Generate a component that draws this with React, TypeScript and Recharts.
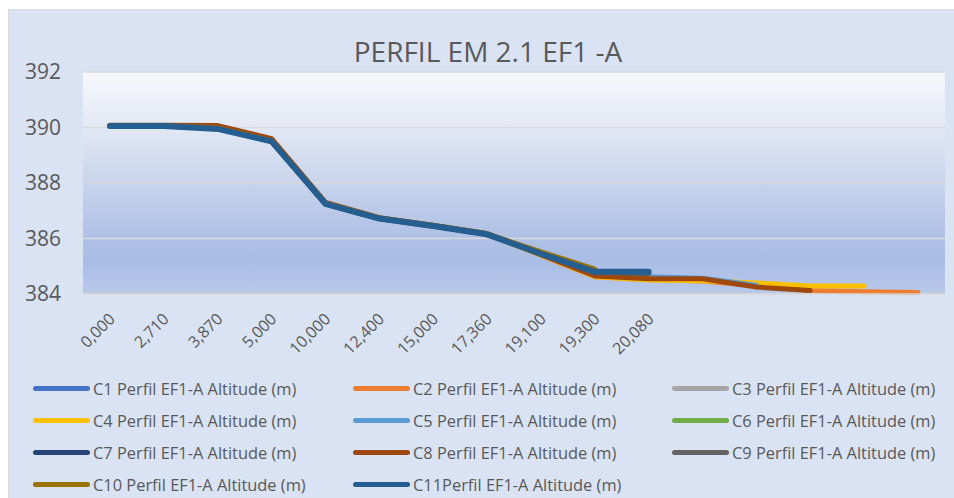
import { CartesianGrid, Line, LineChart, XAxis, YAxis } from 'recharts'

const categories = [
  '0,000', '2,710', '3,870', '5,000', '10,000', '12,400', '15,000', '17,360',
  '19,100', '19,300', '20,080', '', '', '', '', '',
]

const yTicks = [384, 386, 388, 390, 392]

const seriesNames = [
  'C1 Perfil EF1-A Altitude (m)',
  'C2 Perfil EF1-A Altitude (m)',
  'C3 Perfil EF1-A Altitude (m)',
  'C4 Perfil EF1-A Altitude (m)',
  'C5 Perfil EF1-A Altitude (m)',
  'C6 Perfil EF1-A Altitude (m)',
  'C7 Perfil EF1-A Altitude (m)',
  'C8 Perfil EF1-A Altitude (m)',
  'C9 Perfil EF1-A Altitude (m)',
  'C10 Perfil EF1-A Altitude (m)',
  'C11Perfil EF1-A Altitude (m)',
]

const seriesColors = [
  '#4472C4', '#ED7D31', '#A5A5A5', '#FFC000', '#5B9BD5', '#70AD47',
  '#264478', '#9E480E', '#636363', '#997300', '#255E91',
]

const c1 = [390.05, 390.05, 389.97, 389.5, 387.25, 386.72, 386.45, 386.15, 385.45, 384.75, 384.7, null, null, null, null, null]
const c2 = [390.05, 390.05, 389.98, 389.52, 387.26, 386.72, 386.46, 386.16, 385.4, 384.62, 384.52, 384.47, 384.3, 384.13, 384.08, 384.05]
const c3 = [390.05, 390.05, 389.97, 389.5, 387.25, 386.72, 386.45, 386.15, 385.45, 384.72, 384.62, null, null, null, null, null]
const c4 = [390.05, 390.05, 389.98, 389.52, 387.26, 386.72, 386.46, 386.16, 385.4, 384.62, 384.5, 384.48, 384.4, 384.29, 384.29, null]
const c5 = [390.05, 390.05, 389.98, 389.52, 387.26, 386.72, 386.46, 386.16, 385.42, 384.7, 384.62, 384.57, 384.32, null, null, null]
const c6 = [390.05, 390.05, 389.97, 389.5, 387.25, 386.72, 386.45, 386.15, 385.45, 384.75, 384.7, null, null, null, null, null]
const c7 = [390.05, 390.05, 389.97, 389.5, 387.25, 386.72, 386.45, 386.15, 385.45, 384.78, 384.75, null, null, null, null, null]
const c8 = [390.08, 390.08, 390.07, 389.6, 387.3, 386.75, 386.48, 386.18, 385.42, 384.65, 384.55, 384.55, 384.25, 384.13, null, null]
const c9 = [390.05, 390.05, 389.97, 389.5, 387.25, 386.72, 386.45, 386.15, 385.45, 384.78, 384.75, null, null, null, null, null]
const c10 = [390.05, 390.05, 389.98, 389.52, 387.27, 386.74, 386.47, 386.17, 385.52, 384.9, null, null, null, null, null, null]
const c11 = [390.05, 390.05, 389.95, 389.5, 387.25, 386.72, 386.45, 386.15, 385.45, 384.8, 384.8, null, null, null, null, null]

const seriesValues = [c1, c2, c3, c4, c5, c6, c7, c8, c9, c10, c11]

const rows = categories.map((label, i) => {
  const row: Record<string, string | number | null> = { label }
  seriesValues.forEach((vals, s) => {
    row[`s${s}`] = vals[i] ?? null
  })
  return row
})

const FONT = '"Open Sans", sans-serif'
const TEXT = '#595959'

function XTick(props: any) {
  const { x, y, payload } = props
  return (
    <g transform={`translate(${x + 2},${y + 22})`}>
      <text
        x={0}
        y={0}
        dy="0.35em"
        textAnchor="end"
        transform="rotate(-45)"
        fill={TEXT}
        fontSize={16}
        fontFamily={FONT}
      >
        {payload.value}
      </text>
    </g>
  )
}

function ChartLegend() {
  return (
    <>
      {seriesNames.map((name, i) => {
        const col = i % 3
        const row = Math.floor(i / 3)
        const left = [24, 344, 663][col]
        const top = 368 + row * 32
        return (
          <div
            key={name}
            style={{
              position: 'absolute',
              left,
              top,
              height: 20,
              display: 'flex',
              alignItems: 'center',
              whiteSpace: 'nowrap',
            }}
          >
            <div style={{ width: 57, height: 5, borderRadius: 3, background: seriesColors[i], marginRight: 3 }} />
            <span style={{ fontFamily: FONT, fontSize: 16.4, color: TEXT }}>{name}</span>
          </div>
        )
      })}
    </>
  )
}

export default function App() {
  return (
    <div style={{ position: 'absolute', left: 0, top: 0, width: 954, height: 498, background: '#fff', overflow: 'hidden' }}>
      <div
        style={{
          position: 'absolute',
          left: 8,
          top: 9,
          width: 946,
          height: 489,
          background: '#DAE3F3',
          borderTop: '1px solid #D9D9D9',
          borderLeft: '1px solid #D9D9D9',
          boxSizing: 'border-box',
        }}
      >
        <div
          style={{
            position: 'absolute',
            left: 0,
            width: 958,
            top: 27,
            textAlign: 'center',
            fontFamily: FONT,
            fontSize: 28,
            lineHeight: '28px',
            color: TEXT,
          }}
        >
          PERFIL EM 2.1 EF1 -A
        </div>
        <LineChart width={946} height={489} data={rows} margin={{ top: 62, right: 10, left: 0, bottom: 0 }}>
          <defs>
            <linearGradient id="plotBg" x1="0" y1="0" x2="0" y2="1">
              <stop offset="0%" stopColor="#F7F8FC" />
              <stop offset="25%" stopColor="#E2E8F5" />
              <stop offset="50%" stopColor="#C8D4EC" />
              <stop offset="75%" stopColor="#AEC0E5" />
              <stop offset="85%" stopColor="#A9BDE5" />
              <stop offset="100%" stopColor="#B8C8E9" />
            </linearGradient>
          </defs>
          <CartesianGrid vertical={false} stroke="#D9D9D9" strokeWidth={1.5} fill="url(#plotBg)" />
          <XAxis
            dataKey="label"
            interval={0}
            height={205}
            tickSize={0}
            tickMargin={0}
            tickLine={false}
            axisLine={{ stroke: '#D9D9D9', strokeWidth: 1.5 }}
            padding={{ left: 27, right: 27 }}
            tick={<XTick />}
          />
          <YAxis
            domain={[384, 392]}
            ticks={yTicks}
            width={74}
            tickSize={0}
            tickMargin={22}
            tickLine={false}
            axisLine={false}
            tick={{ fill: TEXT, fontSize: 21, fontFamily: FONT }}
          />
          {seriesNames.map((name, i) => (
            <Line
              key={name}
              name={name}
              type="linear"
              dataKey={`s${i}`}
              stroke={seriesColors[i]}
              strokeWidth={i === 10 ? 6 : 5}
              strokeLinecap="round"
              strokeLinejoin="round"
              dot={false}
              activeDot={false}
              isAnimationActive={false}
            />
          ))}
        </LineChart>
        <ChartLegend />
      </div>
    </div>
  )
}
